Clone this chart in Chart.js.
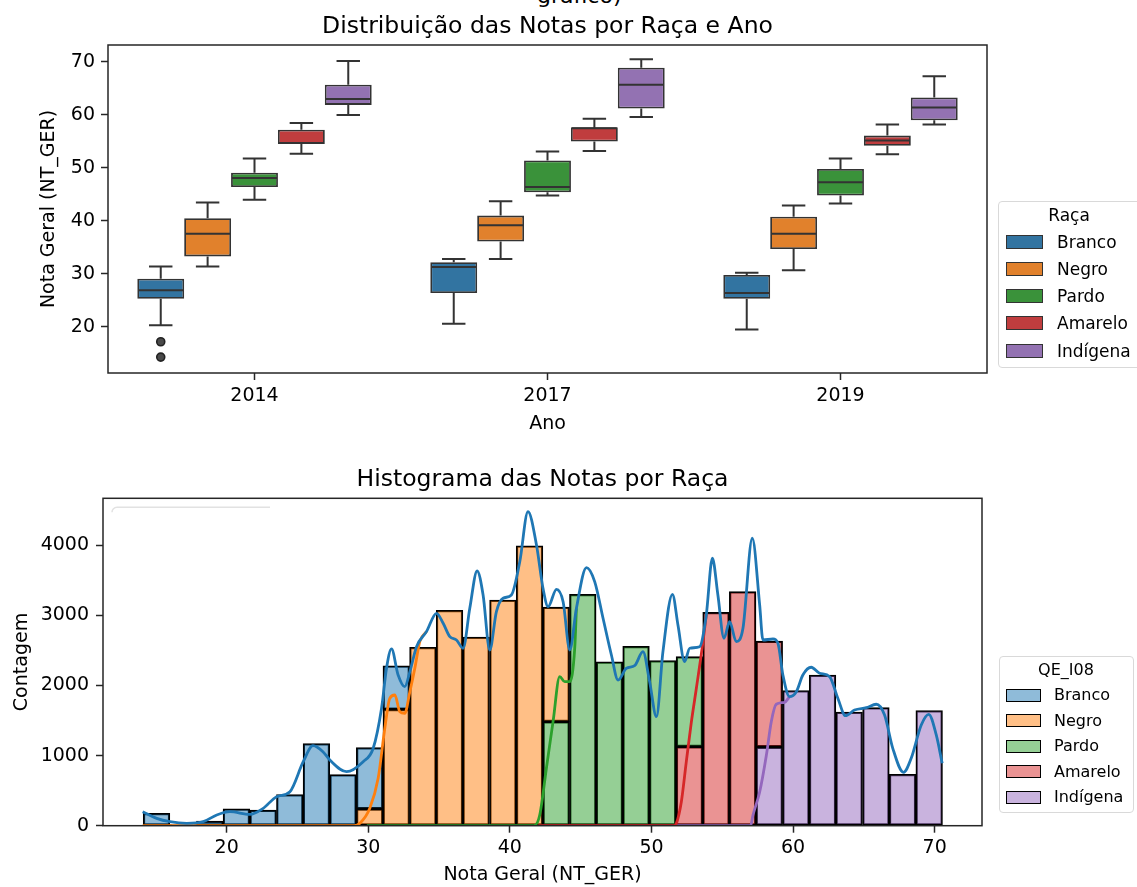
<!DOCTYPE html>
<html><head><meta charset="utf-8">
<script src="https://cdn.jsdelivr.net/npm/chart.js@4.4.1/dist/chart.umd.min.js"></script>
<style>
body{margin:0;width:1137px;height:887px;overflow:hidden;background:#fff;font-family:'DejaVu Sans',sans-serif;position:relative}
canvas{position:absolute;left:0}
.t{position:absolute;white-space:nowrap;color:#000}
.ttl{position:absolute;white-space:nowrap;color:#000;text-align:center;font-size:23.5px;line-height:28px;height:28px}
.leg{position:absolute;border:1px solid #d9d9d9;border-radius:4px;background:#fff;box-sizing:border-box}
.sw{position:absolute;box-sizing:border-box}
</style></head><body>
<div class="t" style="left:537px;top:-15px;font-size:22px;line-height:22px">gráfico)</div>
<canvas id="c1" width="1137" height="445" style="top:0"></canvas>
<canvas id="c2" width="1137" height="442" style="top:445px"></canvas>
<div class="ttl" style="left:108px;width:879px;top:11px">Distribuição das Notas por Raça e Ano</div>
<div class="ttl" style="left:103px;width:879px;top:464px">Histograma das Notas por Raça</div>
<div id="legTop"></div>
<div id="legBot"></div>
<script>
// ---------- Box plot data (Nota Geral by race and year) ----------
const years = ['2014', '2017', '2019'];
const races = ['Branco', 'Negro', 'Pardo', 'Amarelo', 'Indígena'];
// each row = one race, values for 2014, 2017, 2019
const boxLow  = [[20.3, 20.6, 19.5], [31.4, 32.8, 30.7], [44.0, 44.8, 43.3], [52.7, 53.2, 52.6], [60.0, 59.6, 58.2]];
const boxQ1   = [[25.3, 26.4, 25.3], [33.3, 36.1, 34.7], [46.4, 45.4, 44.8], [54.5, 55.0, 54.2], [61.9, 61.2, 59.0]];
const boxMed  = [[26.9, 31.3, 26.4], [37.6, 39.2, 37.6], [48.1, 46.4, 47.3], [54.7, 57.5, 55.2], [63.0, 65.7, 61.4]];
const boxQ3   = [[29.1, 32.2, 29.8], [40.5, 41.0, 40.8], [49.1, 51.4, 49.8], [57.2, 57.7, 56.1], [65.7, 68.9, 63.3]];
const boxHigh = [[31.4, 32.8, 30.2], [43.5, 43.7, 42.9], [51.8, 53.1, 51.8], [58.5, 59.3, 58.2], [70.2, 70.5, 67.3]];
const boxOutliers = [[[17.2, 14.3], [], []], [[], [], []], [[], [], []], [[], [], []], [[], [], []]];
const boxTicks = [20, 30, 40, 50, 60, 70];
const boxColors = ['#3274a1', '#e1812c', '#3a923a', '#c03d3e', '#9372b2'];

// ---------- Histogram data ----------
const binCenters = [15.05, 16.93, 18.81, 20.69, 22.58, 24.46, 26.34, 28.22, 30.10, 31.98, 33.86, 35.74, 37.62, 39.51, 41.39,
                    43.27, 45.15, 47.03, 48.91, 50.79, 52.68, 54.56, 56.44, 58.32, 60.20, 62.08, 63.96, 65.85, 67.73, 69.61];
const histBranco   = [177, 15, 65, 240, 222, 445, 1172, 728, 875, 622, null, null, null, null, null,
                      null, null, null, null, null, null, null, null, null, null, null, null, null, null, null];
const histNegro    = [null, null, null, null, null, null, null, null, 240, 1660, 2546, 3072, 2692, 3220, 3992,
                      1633, null, null, null, null, null, null, null, null, null, null, null, null, null, null];
const histPardo    = [null, null, null, null, null, null, null, null, null, null, null, null, null, null, null,
                      1484, 3300, 2338, 2560, 2357, 1284, null, null, null, null, null, null, null, null, null];
const histAmarelo  = [null, null, null, null, null, null, null, null, null, null, null, null, null, null, null,
                      null, null, null, null, null, 1127, 3042, 3338, 1510, null, null, null, null, null, null];
const histIndigena = [null, null, null, null, null, null, null, null, null, null, null, null, null, null, null,
                      null, null, null, null, null, null, null, null, 1122, 1928, 2150, 1622, 1684, 733, 1643];
const histTicksX = [20, 30, 40, 50, 60, 70];
const histTicksY = [0, 1000, 2000, 3000, 4000];
const histFill = ['rgba(31,119,180,0.5)', 'rgba(255,127,14,0.5)', 'rgba(44,160,44,0.5)', 'rgba(214,39,40,0.5)', 'rgba(148,103,189,0.5)'];
const kdeColors = ['#1f77b4', '#ff7f0e', '#2ca02c', '#d62728', '#9467bd'];

// stacked KDE curves: [nota, contagem]
const kdeBranco = [[14.07,200],[15.06,105],[16.0,57],[17.18,34],[18.35,57],[19.3,153],[20.23,200],[21.64,162],[22.58,248],[23.53,414],
  [24.47,485],[25.41,913],[26.1,1141],[26.8,1056],[27.29,937],[28.47,770],[29.64,913],[30.35,1104],[30.94,1675],[31.29,2245],
  [31.64,2521],[32.11,2150],[32.58,1983],[32.94,2197],[33.41,2553],[34.11,2768],[34.82,3030],[35.29,2887],[35.76,2696],[36.23,2649],
  [36.70,2531],[37.17,3101],[37.69,3633],[38.11,3291],[38.58,2506],[39.05,3053],[39.52,3244],[40.11,3291],[40.70,3766],[41.28,4479],
  [41.88,4004],[42.34,3387],[42.70,3124],[43.29,3372],[43.76,3195],[44.23,2506],[44.70,3101],[45.41,3681],[45.99,3481],[46.58,2959],
  [47.17,2435],[47.64,2078],[48.23,2245],[48.81,2282],[49.4,2482],[49.87,2054],[50.35,1555],[50.81,2482],[51.48,3301],[51.87,2863],
  [52.34,2340],[52.70,2531],[53.40,2553],[53.87,3006],[54.30,3815],[54.69,3291],[55.12,2673],[55.52,2910],[55.99,2625],[56.46,2816],
  [57.12,4100],[57.64,3148],[57.87,2649],[58.58,2663],[58.93,2602],[59.28,2150],[59.75,1840],[60.23,1912],[60.69,2150],[61.28,2260],
  [61.87,2174],[62.58,2126],[63.16,1817],[63.70,1569],[64.34,1650],[65.17,1683],[65.87,1732],[66.46,1579],[67.04,1104],[67.80,762],
  [68.34,961],[69.05,1437],[69.58,1589],[70.11,1294],[70.53,890]];
const kdeNegro = [[14.07,0],[29.0,0],[29.41,34],[30.11,248],[30.70,676],[31.17,1389],[31.52,1817],[31.88,1864],[32.23,1626],
  [32.58,1603],[32.94,1912],[33.29,2245],[33.64,2625],[34.11,2768]];
const kdePardo = [[29.9,0],[41.7,0],[42.11,153],[42.58,819],[43.05,1484],[43.52,2126],[43.88,2054],[44.23,2054],[44.58,2531],[44.70,3101]];
const kdeAmarelo = [[42.0,0],[51.6,0],[51.76,34],[52.11,342],[52.46,913],[52.82,1484],[53.17,1960],[53.64,2625],[53.87,3006]];
const kdeIndigena = [[51.76,0],[57.0,0],[57.17,153],[57.64,480],[58.11,1000],[58.46,1484],[58.81,1732],[59.4,1760],[59.75,1840]];

Chart.defaults.font.family = "'DejaVu Sans', sans-serif";
Chart.defaults.color = '#000';

const framePlugin = {
  id: 'frame',
  afterDatasetsDraw(chart) {
    const { ctx, chartArea: a } = chart;
    ctx.save();
    ctx.strokeStyle = '#262626';
    ctx.lineWidth = 1.5;
    ctx.strokeRect(a.left, a.top, a.right - a.left, a.bottom - a.top);
    ctx.restore();
  }
};

const whiskerPlugin = {
  id: 'whiskers',
  afterDatasetsDraw(chart) {
    const { ctx } = chart;
    const ys = chart.scales.y;
    ctx.save();
    ctx.strokeStyle = '#333333';
    ctx.lineWidth = 2;
    chart.data.datasets.forEach((ds, i) => {
      const meta = chart.getDatasetMeta(i);
      meta.data.forEach((bar, j) => {
        const x = bar.x, w = bar.width, c = w / 4;
        const pLo = ys.getPixelForValue(boxLow[i][j]);
        const pQ1 = ys.getPixelForValue(boxQ1[i][j]);
        const pMed = ys.getPixelForValue(boxMed[i][j]);
        const pQ3 = ys.getPixelForValue(boxQ3[i][j]);
        const pHi = ys.getPixelForValue(boxHigh[i][j]);
        ctx.beginPath();
        ctx.moveTo(x, pQ3); ctx.lineTo(x, pHi);
        ctx.moveTo(x - c, pHi); ctx.lineTo(x + c, pHi);
        ctx.moveTo(x, pQ1); ctx.lineTo(x, pLo);
        ctx.moveTo(x - c, pLo); ctx.lineTo(x + c, pLo);
        ctx.moveTo(x - w / 2 + 1, pMed); ctx.lineTo(x + w / 2 - 1, pMed);
        ctx.stroke();
        boxOutliers[i][j].forEach(v => {
          const py = ys.getPixelForValue(v);
          ctx.beginPath();
          ctx.arc(x, py, 4, 0, Math.PI * 2);
          ctx.fillStyle = '#4a4a4a';
          ctx.fill();
          ctx.lineWidth = 1.6;
          ctx.strokeStyle = '#222';
          ctx.stroke();
          ctx.lineWidth = 2;
          ctx.strokeStyle = '#333333';
        });
      });
    });
    ctx.restore();
  }
};

const tickStyle = { drawOnChartArea: false, offset: false, tickLength: 7, tickWidth: 1.5, tickColor: '#262626' };

new Chart(document.getElementById('c1'), {
  type: 'bar',
  data: {
    labels: years,
    datasets: races.map((r, i) => ({
      label: r,
      data: years.map((_, j) => [boxQ1[i][j], boxQ3[i][j]]),
      backgroundColor: boxColors[i],
      borderColor: '#333333',
      borderWidth: 1.8,
      borderSkipped: false,
      categoryPercentage: 0.8,
      barPercentage: 1.0
    }))
  },
  options: {
    responsive: false, animation: false, events: [],
    layout: { padding: { left: 0, right: 150, top: 45, bottom: 0 } },
    plugins: { legend: { display: false }, tooltip: { enabled: false }, title: { display: false } },
    scales: {
      x: {
        offset: true,
        grid: tickStyle, border: { display: false },
        ticks: { font: { size: 19 }, padding: 4.5, color: '#000' },
        title: { display: true, text: 'Ano', font: { size: 19 }, color: '#000', padding: { top: 0, bottom: 9.6 } },
        afterFit: s => { s.height = 72; }
      },
      y: {
        min: 11.3, max: 73.2,
        afterBuildTicks: s => { s.ticks = boxTicks.map(v => ({ value: v })); },
        grid: tickStyle, border: { display: false },
        ticks: { font: { size: 19 }, padding: 6, color: '#000', callback: v => String(v) },
        title: { display: true, text: 'Nota Geral (NT_GER)', font: { size: 19 }, color: '#000', padding: { top: 37.6, bottom: 0 } },
        afterFit: s => { s.width = 108; }
      }
    }
  },
  plugins: [whiskerPlugin, framePlugin]
});

const emptyLegendPlugin = {
  id: 'emptyLegend',
  beforeDatasetsDraw(chart) {
    const { ctx, chartArea: a } = chart;
    ctx.save();
    ctx.strokeStyle = '#e2e2e2';
    ctx.lineWidth = 1.5;
    ctx.beginPath();
    ctx.moveTo(a.left + 9, a.top + 14);
    ctx.arcTo(a.left + 9, a.top + 9, a.left + 14, a.top + 9, 5);
    ctx.lineTo(a.left + 167, a.top + 9);
    ctx.stroke();
    ctx.restore();
  }
};

const histSeries = [histIndigena, histAmarelo, histPardo, histNegro, histBranco];
const histNames = ['Indígena', 'Amarelo', 'Pardo', 'Negro', 'Branco'];
const histIdx = [4, 3, 2, 1, 0];
const kdeSeries = [kdeBranco, kdeNegro, kdePardo, kdeAmarelo, kdeIndigena];

const barSets = histSeries.map((d, k) => ({
  type: 'bar', label: histNames[k], data: d, stack: 'h', yAxisID: 'y',
  backgroundColor: histFill[histIdx[k]], borderColor: '#000', borderWidth: 1.6, borderSkipped: false,
  categoryPercentage: 1.0, barPercentage: 1.0, order: 10
}));
const lineSets = kdeSeries.map((d, k) => ({
  type: 'line', label: races[k] + ' kde', data: d.map(p => ({ x: p[0], y: p[1] })), yAxisID: 'yk',
  borderColor: kdeColors[k], borderWidth: 2.8, pointRadius: 0, fill: false,
  cubicInterpolationMode: 'monotone', order: k
}));

new Chart(document.getElementById('c2'), {
  type: 'bar',
  data: { labels: binCenters, datasets: barSets.concat(lineSets) },
  options: {
    responsive: false, animation: false, events: [],
    layout: { padding: { left: 0, right: 155, top: 53.3, bottom: 0 } },
    plugins: { legend: { display: false }, tooltip: { enabled: false }, title: { display: false } },
    scales: {
      x: {
        type: 'linear', min: 11.27, max: 73.34, offset: false,
        afterBuildTicks: s => { s.ticks = histTicksX.map(v => ({ value: v })); },
        grid: tickStyle, border: { display: false },
        ticks: { font: { size: 19 }, padding: 4.2, color: '#000', callback: v => String(v) },
        title: { display: true, text: 'Nota Geral (NT_GER)', font: { size: 19 }, color: '#000', padding: { top: 0, bottom: 0.6 } },
        afterFit: s => { s.height = 61.3; }
      },
      y: {
        min: 0, max: 4670, stacked: true,
        afterBuildTicks: s => { s.ticks = histTicksY.map(v => ({ value: v })); },
        grid: tickStyle, border: { display: false },
        ticks: { font: { size: 19 }, padding: 7, color: '#000', callback: v => String(v) },
        title: { display: true, text: 'Contagem', font: { size: 19 }, color: '#000', padding: { top: 10.3, bottom: 0 } },
        afterFit: s => { s.width = 103; }
      },
      yk: { type: 'linear', display: false, min: 0, max: 4670 }
    }
  },
  plugins: [emptyLegendPlugin, framePlugin]
});

// ---------- HTML legends ----------
function buildLegend(el, box, title, titleCx, titleCy, font, rowsY, swLeft, swW, swH, textLeft, fills, edge) {
  let h = '<div class="leg" style="left:' + box[0] + 'px;top:' + box[1] + 'px;width:' + box[2] + 'px;height:' + box[3] + 'px"></div>';
  h += '<div class="t" style="left:' + (titleCx - 70) + 'px;width:140px;text-align:center;top:' + (titleCy - 12) + 'px;line-height:24px;font-size:' + font + 'px">' + title + '</div>';
  races.forEach((r, i) => {
    const cy = rowsY[i];
    h += '<div class="sw" style="left:' + swLeft + 'px;top:' + (cy - swH / 2) + 'px;width:' + swW + 'px;height:' + swH + 'px;background:' + fills[i] + ';border:1.5px solid ' + edge + '"></div>';
    h += '<div class="t" style="left:' + textLeft + 'px;top:' + (cy - 12) + 'px;line-height:24px;font-size:' + font + 'px">' + r + '</div>';
  });
  el.innerHTML = h;
}
buildLegend(document.getElementById('legTop'), [998, 201, 150, 167], 'Raça', 1069, 215, 17,
  [242, 269, 296, 323, 351], 1006, 37, 14, 1057, boxColors, '#333333');
buildLegend(document.getElementById('legBot'), [999, 656, 135, 157], 'QE_I08', 1066, 670, 16,
  [695.3, 720.7, 746, 771.7, 797.3], 1006, 35, 13, 1054, histFill, '#000');
</script>
</body></html>
